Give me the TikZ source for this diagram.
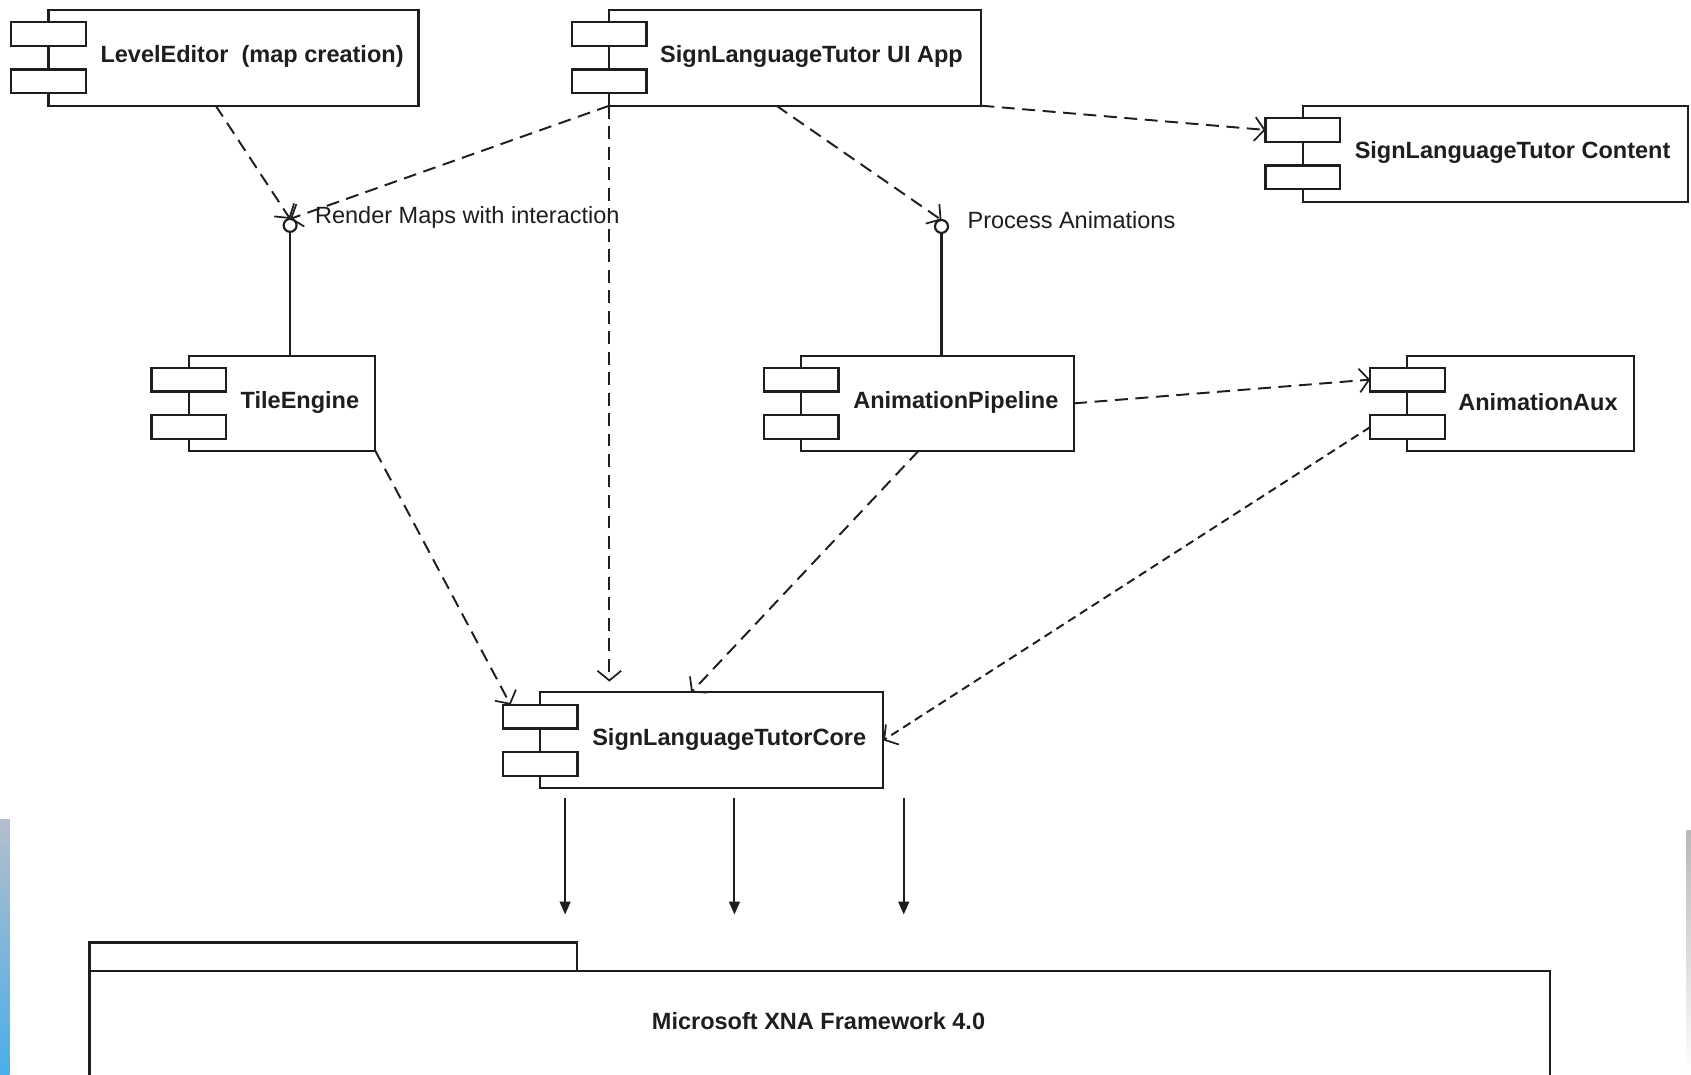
\documentclass[tikz,border=0pt]{standalone}
\usepackage{fontspec}
\setmainfont{Liberation Sans}
\usetikzlibrary{arrows.meta,calc}
\definecolor{ink}{HTML}{1E1E1E}
\definecolor{stripA}{HTML}{B4BECC}
\definecolor{stripB}{HTML}{8C9CB0}
\definecolor{stripC}{HTML}{4AAEEA}
\definecolor{rstripA}{HTML}{B8B8B8}
\definecolor{rstripB}{HTML}{6CC0EC}
\newcommand\comp[7]{%
  \node[compbox, minimum width={(#4-#2)*1pt}, minimum height={(#5-#3)*1pt}] (#1) at ({(#2+#4)/2},{(#3+#5)/2}) {};
  \node[comptab] (#1-t1) at ($(#1.west)+(0,-22)$) {};
  \node[comptab] (#1-t2) at ($(#1.west)+(0,22)$) {};
  \node[complabel] (#1-l) at (#7,{(#3+#5)/2-1}) {#6};
}
\begin{document}
\begin{tikzpicture}[x=1pt,y=-1pt,
  ln/.style={draw=ink, line width=2pt},
  compbox/.style={ln, fill=white, rectangle, inner sep=0pt, outer sep=0pt},
  comptab/.style={compbox, minimum width=69pt, minimum height=22pt},
  complabel/.style={anchor=west, inner sep=0pt, font=\fontsize{21.8}{25}\selectfont\bfseries, text=ink},
  iflabel/.style={anchor=west, inner sep=0pt, font=\fontsize{21.8}{25}\selectfont, text=ink},
  lolli/.style={ln, circle, fill=white, minimum size=12pt, inner sep=0pt, outer sep=0pt},
  dep/.style={draw=ink, line width=1.8pt, dash pattern=on 12pt off 7pt,
    -{Straight Barb[length=9pt,width=22pt,line width=1.6pt]}},
  use/.style={draw=ink, line width=1.8pt, -{Triangle[length=12pt,width=10pt]}}
]
\clip (0,0) rectangle (1568,996);
\fill[white] (0,0) rectangle (1568,996);
% screenshot edge strips
\shade[top color=stripA, middle color=stripB, bottom color=stripC] (0,760) rectangle (9,996);
\shade[top color=rstripA, middle color=rstripB, bottom color=white] (1564,770) rectangle (1568,996);

% components
\comp{le}{45}{9}{388}{98}{LevelEditor\ \ (map creation)}{93}
\comp{ui}{565}{9}{910}{98}{SignLanguageTutor UI App}{612}
\comp{ct}{1208}{98}{1565}{187}{SignLanguageTutor Content}{1256}
\comp{te}{175}{330}{348}{418}{TileEngine}{223}
\comp{ap}{743}{330}{996}{418}{AnimationPipeline}{791}
\comp{aux}{1305}{330}{1515}{418}{AnimationAux}{1352}
\comp{core}{501}{642}{819}{731}{SignLanguageTutorCore}{549}

% interfaces (lollipops)
\node[lolli] (rm) at (269,209) {};
\node[lolli] (pa) at (873,210) {};
\draw[ln] (rm.south) -- (rm.south |- te.north);
\draw[ln] (pa.south) -- (pa.south |- ap.north);
\node[iflabel] (rml) at (292,202) {Render Maps with interaction};
\node[iflabel] (pal) at (897,204) {Process Animations};

% dependencies
\draw[dep] ($(le.south west)!0.452!(le.south east)$) -- (rm.north);
\draw[dep] (ui.south west) -- (rm.north);
\draw[dep, shorten >=10pt] (ui.south west) -- (ui.south west |- core.north);
\draw[dep] ($(ui.south west)!0.449!(ui.south east)$) -- (pa.north);
\draw[dep] (ui.south east) -- (ct-t1.west);
\draw[dep] (te.south east) -- ($(core-t1.north west)!0.1!(core-t1.north east)$);
\draw[dep] ($(ap.south west)!0.43!(ap.south east)$) -- ($(core.north west)!0.44!(core.north east)$);
\draw[dep] (ap.east) -- (aux-t1.west);
\draw[dep, dash pattern=on 8pt off 5pt] (aux-t2.west) -- (core.east);

% package
\node[compbox, minimum width=452pt, minimum height=26pt] (pkgtab) at (309,887) {};
\node[compbox, minimum width=1354pt, minimum height=120pt] (pkg) at (760,960) {};
\node[complabel, anchor=center] (pkgl) at (759,947) {Microsoft XNA Framework 4.0};

% usage arrows
\coordinate (s1) at ($(core.south west)+(23,9)$);
\coordinate (s2) at ($(core.south west)+(180,9)$);
\coordinate (s3) at ($(core.south west)+(337,9)$);
\coordinate (e1) at ($(s1)+(0,108)$);
\coordinate (e2) at ($(s2)+(0,108)$);
\coordinate (e3) at ($(s3)+(0,108)$);
\draw[use] (s1) -- (e1);
\draw[use] (s2) -- (e2);
\draw[use] (s3) -- (e3);
\end{tikzpicture}
\end{document}
